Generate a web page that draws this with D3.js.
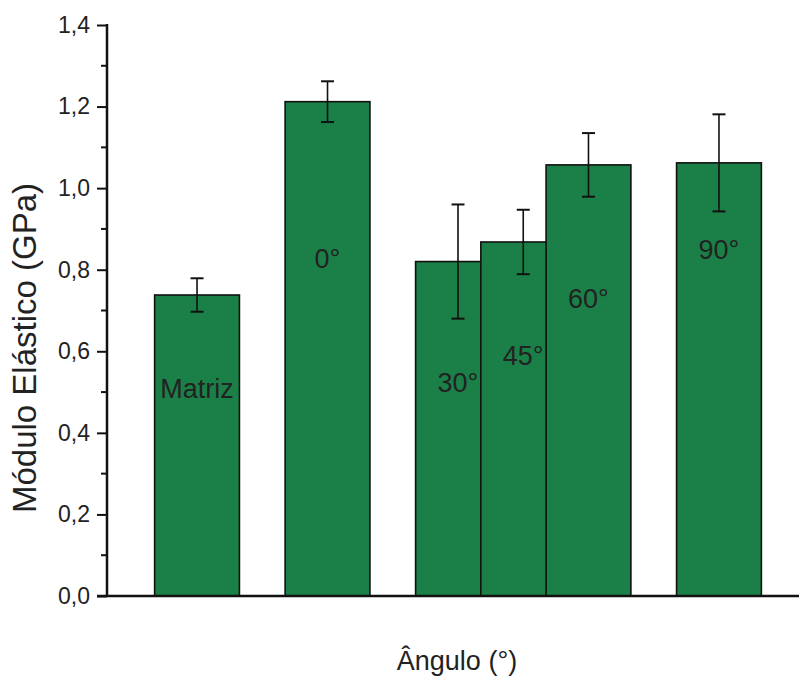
<!DOCTYPE html>
<html lang="pt">
<head>
    <meta charset="UTF-8">
    <title>Módulo Elástico</title>
    <script src="https://cdn.jsdelivr.net/npm/d3@7"></script>
    <style>
        body { margin: 0; background: #fff; }
        text { font-family: "Liberation Sans", Arial, sans-serif; fill: #222; }
    </style>
</head>
<body>
<svg width="799" height="678"></svg>

<script>

    // dados
    var amostras = ["Matriz", "0°", "30°", "45°", "60°", "90°"];
    var angulos = [-30, 0, 30, 45, 60, 90];          // posição no eixo x (graus)
    var modulo = [0.738, 1.212, 0.820, 0.868, 1.057, 1.062];
    var desvio = [0.041, 0.050, 0.140, 0.079, 0.078, 0.119];
    var alturaRotulo = [0.485, 0.804, 0.500, 0.566, 0.706, 0.826];
    var yTicks = [0, 0.2, 0.4, 0.6, 0.8, 1.0, 1.2, 1.4];

    var svg = d3.select("svg"),
        width = +svg.attr("width"),
        height = +svg.attr("height");

    var mLeft = 107, mRight = 799, mTop = 25, mBottom = 596;

    var x = d3.scaleLinear().domain([-50.7, 108.4]).range([mLeft, mRight]);
    var y = d3.scaleLinear().domain([0, 1.4]).range([mBottom, mTop]);
    var larguraBarra = x(19.5) - x(0);

    var fmt = function (d) {
        return d3.format(".1f")(d).replace(".", ",");
    };

    var dados = amostras.map(function (d, i) {
        return {nome: d, x: angulos[i], v: modulo[i], e: desvio[i], ly: alturaRotulo[i]};
    });

    /* barras */
    svg.append("g")
        .selectAll("rect")
        .data(dados)
        .enter().append("rect")
        .attr("x", function (d) { return x(d.x) - larguraBarra / 2; })
        .attr("y", function (d) { return y(d.v); })
        .attr("width", larguraBarra)
        .attr("height", function (d) { return y(0) - y(d.v); })
        .attr("fill", "#1b8047")
        .attr("stroke", "#111")
        .attr("stroke-width", 1.6);

    /* barras de erro */
    var erro = svg.append("g")
        .selectAll("g")
        .data(dados)
        .enter().append("g")
        .attr("stroke", "#111")
        .attr("stroke-width", 1.6);

    erro.append("line")
        .attr("x1", function (d) { return x(d.x); })
        .attr("x2", function (d) { return x(d.x); })
        .attr("y1", function (d) { return y(d.v + d.e); })
        .attr("y2", function (d) { return y(d.v - d.e); });

    erro.selectAll("line.cap")
        .data(function (d) { return [[d.x, d.v + d.e], [d.x, d.v - d.e]]; })
        .enter().append("line")
        .attr("class", "cap")
        .attr("stroke-width", 2)
        .attr("x1", function (d) { return x(d[0]) - 6.5; })
        .attr("x2", function (d) { return x(d[0]) + 6.5; })
        .attr("y1", function (d) { return y(d[1]); })
        .attr("y2", function (d) { return y(d[1]); });

    /* rótulos */
    svg.append("g")
        .selectAll("text")
        .data(dados)
        .enter().append("text")
        .attr("x", function (d) { return x(d.x); })
        .attr("y", function (d) { return y(d.ly); })
        .attr("text-anchor", "middle")
        .style("font-size", "27px")
        .text(function (d) { return d.nome; });

    /* eixos */
    var yAxis = svg.append("g")
        .attr("transform", "translate(" + mLeft + ",0)")
        .call(d3.axisLeft(y).tickValues(yTicks).tickFormat(fmt).tickSize(10).tickPadding(7));

    yAxis.select(".domain").remove();
    yAxis.selectAll(".tick line").attr("stroke", "#111").attr("stroke-width", 2);
    yAxis.selectAll(".tick text")
        .style("font-size", "23px")
        .style("font-family", "'Liberation Sans', Arial, sans-serif")
        .attr("fill", "#333");

    var minor = d3.range(0.1, 1.4, 0.2);
    svg.append("g")
        .selectAll("line")
        .data(minor)
        .enter().append("line")
        .attr("x1", mLeft - 6)
        .attr("x2", mLeft)
        .attr("y1", function (d) { return y(d); })
        .attr("y2", function (d) { return y(d); })
        .attr("stroke", "#111")
        .attr("stroke-width", 2);

    svg.append("line")
        .attr("x1", mLeft).attr("x2", mLeft)
        .attr("y1", y(0)).attr("y2", y(1.4) - 1)
        .attr("stroke", "#111")
        .attr("stroke-width", 2.5);

    svg.append("line")
        .attr("x1", mLeft - 10).attr("x2", mRight)
        .attr("y1", y(0)).attr("y2", y(0))
        .attr("stroke", "#111")
        .attr("stroke-width", 2.5);

    /* títulos */
    svg.append("text")
        .attr("x", 457)
        .attr("y", 670)
        .attr("text-anchor", "middle")
        .style("font-size", "27px")
        .text("Ângulo (°)");

    svg.append("text")
        .attr("transform", "translate(36,348) rotate(-90)")
        .attr("text-anchor", "middle")
        .style("font-size", "33px")
        .text("Módulo Elástico (GPa)");

</script>

</body>
</html>
